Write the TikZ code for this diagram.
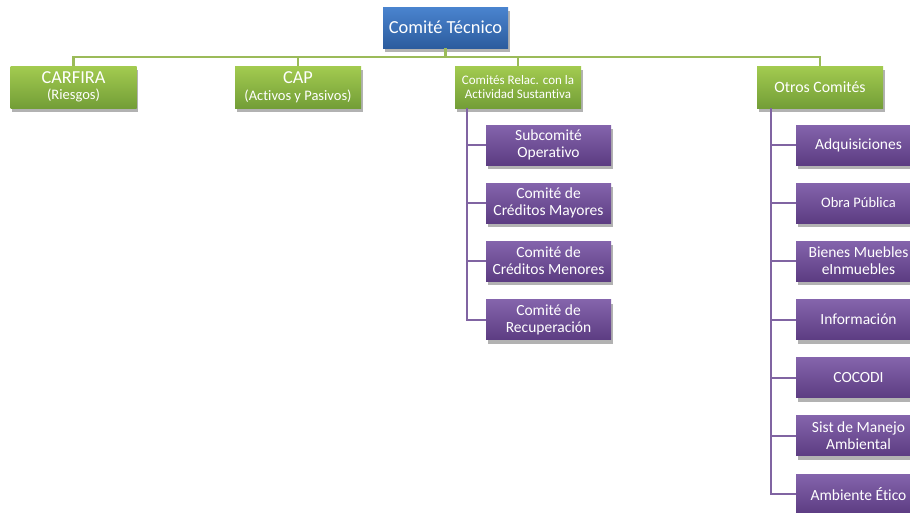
\documentclass[tikz,border=0pt]{standalone}
\usepackage{fontspec}
\setmainfont{Carlito}[Ligatures={NoCommon,NoContextual,NoRare}]
\usetikzlibrary{shadows}
\definecolor{btop}{HTML}{4A84CF}
\definecolor{bbot}{HTML}{2C5C9E}
\definecolor{gtop}{HTML}{A3CB50}
\definecolor{gbot}{HTML}{739E37}
\definecolor{ptop}{HTML}{8464AC}
\definecolor{pbot}{HTML}{5C3C82}
\definecolor{gline}{HTML}{9BBB59}
\definecolor{pline}{HTML}{8064A2}
\tikzset{
  box/.style={rectangle, text=white, align=center, inner sep=0pt,
    drop shadow={shadow xshift=1.5pt, shadow yshift=-4pt, opacity=0.3, fill=black}},
  bluebox/.style={box, top color=btop, bottom color=bbot, minimum width=125pt, minimum height=41pt},
  greenbox/.style={box, top color=gtop, bottom color=gbot, minimum width=126pt, minimum height=42pt},
  purplebox/.style={box, top color=ptop, bottom color=pbot, minimum width=125pt, minimum height=40pt,
    font=\fontsize{15.5}{17}\selectfont},
  gconn/.style={draw=gline, line width=2.2pt},
  pconn/.style={draw=pline, line width=2pt},
}
\begin{document}
\begin{tikzpicture}[x=1pt,y=-1pt]
\begin{scope}
\clip (0,0) rectangle (910,512);
% top
\node[bluebox, font=\fontsize{18.4}{20}\selectfont] (top) at (445.5,27.5) {Comité Técnico};
% level 1
\node[greenbox, font=\fontsize{18.3}{16.5}\selectfont] (carfira) at (73.5,87) {CARFIRA\\{\fontsize{14.5}{16}\selectfont (Riesgos)}};
\node[greenbox, font=\fontsize{18.3}{16.5}\selectfont] (cap) at (298,87) {CAP\\{\fontsize{14.5}{16}\selectfont (Activos y Pasivos)}};
\node[greenbox, font=\fontsize{13}{14.5}\selectfont] (relac) at (518,87) {Comités Relac. con la\\Actividad Sustantiva};
\node[greenbox, font=\fontsize{15.8}{18}\selectfont] (otros) at (820,87) {Otros Comités};
% bus
\coordinate (bus) at (0,57);
\draw[gconn] (top.south) -- (top.south |- bus);
\draw[gconn] (carfira.north) -- (carfira.north |- bus) -| (otros.north);
\draw[gconn] (cap.north) -- (cap.north |- bus);
\draw[gconn] (relac.north) -- (relac.north |- bus);
% left purple column
\node[purplebox] (s1) at (548.5,145) {Subcomité\\Operativo};
\node[purplebox] (s2) at (548.5,203) {Comité de\\Créditos Mayores};
\node[purplebox] (s3) at (548.5,261) {Comité de\\Créditos Menores};
\node[purplebox] (s4) at (548.5,319.5) {Comité de\\Recuperación};
\coordinate (rv) at (467,108);
\foreach \n in {s1,s2,s3,s4} \draw[pconn] (rv) |- (\n.west);
% right purple column
\node[purplebox] (o1) at (858.5,145) {Adquisiciones};
\node[purplebox, font=\fontsize{14.5}{16}\selectfont] (o2) at (858.5,203) {Obra Pública};
\node[purplebox] (o3) at (858.5,261) {Bienes Muebles\\eInmuebles};
\node[purplebox] (o4) at (858.5,319.5) {Información};
\node[purplebox] (o5) at (858.5,377.5) {COCODI};
\node[purplebox] (o6) at (858.5,435.5) {Sist de Manejo\\Ambiental};
\node[purplebox] (o7) at (858.5,494) {Ambiente Ético};
\coordinate (ov) at (771,108);
\foreach \n in {o1,o2,o3,o4,o5,o6,o7} \draw[pconn] (ov) |- (\n.west);
\end{scope}
\pgfresetboundingbox
\useasboundingbox (0,0) rectangle (910,512);
\end{tikzpicture}
\end{document}
